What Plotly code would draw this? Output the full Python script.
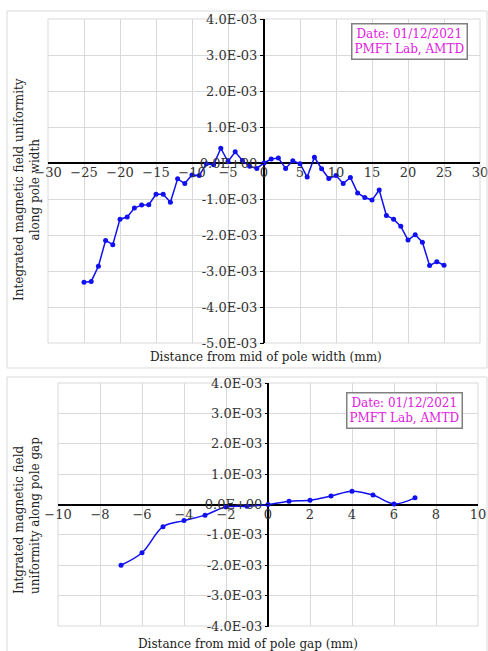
import plotly.graph_objects as go

W, H = 488, 651

# ---- data ----
width_x = list(range(-25, 26))
width_y = [-3.31e-3, -3.29e-3, -2.87e-3, -2.15e-3, -2.27e-3, -1.56e-3, -1.50e-3, -1.25e-3,
           -1.17e-3, -1.16e-3, -0.87e-3, -0.87e-3, -1.09e-3, -0.44e-3, -0.57e-3, -0.33e-3,
           -0.35e-3, -0.02e-3, -0.05e-3, 0.41e-3, 0.04e-3, 0.31e-3, 0.07e-3, -0.09e-3,
           -0.15e-3, 0.0, 0.11e-3, 0.14e-3, -0.15e-3, 0.06e-3, -0.02e-3, -0.39e-3,
           0.16e-3, -0.16e-3, -0.43e-3, -0.35e-3, -0.57e-3, -0.40e-3, -0.83e-3, -0.96e-3,
           -1.03e-3, -0.75e-3, -1.46e-3, -1.56e-3, -1.76e-3, -2.14e-3, -1.99e-3, -2.20e-3,
           -2.85e-3, -2.74e-3, -2.84e-3]

gap_x = list(range(-7, 8))
gap_y = [-2.00e-3, -1.59e-3, -0.73e-3, -0.53e-3, -0.35e-3, -0.08e-3, -0.06e-3, 0.0,
         0.11e-3, 0.14e-3, 0.28e-3, 0.44e-3, 0.31e-3, 0.02e-3, 0.22e-3]

top_xticks = list(range(-30, 31, 5))
top_yticks = [4e-3, 3e-3, 2e-3, 1e-3, 0.0, -1e-3, -2e-3, -3e-3, -4e-3, -5e-3]
top_ylabels = ["4.0E-03", "3.0E-03", "2.0E-03", "1.0E-03", "0.0E+00",
               "-1.0E-03", "-2.0E-03", "-3.0E-03", "-4.0E-03", "-5.0E-03"]
bot_xticks = list(range(-10, 11, 2))
bot_yticks = [4e-3, 3e-3, 2e-3, 1e-3, 0.0, -1e-3, -2e-3, -3e-3, -4e-3]
bot_ylabels = ["4.0E-03", "3.0E-03", "2.0E-03", "1.0E-03", "0.0E+00",
               "-1.0E-03", "-2.0E-03", "-3.0E-03", "-4.0E-03"]

FONT = "DejaVu Serif"
BLUE = "#1010f0"
GRID = "#d9d9d9"
MAG = "#e020e0"

def px(x):
    return x / W

def py(y):
    return 1 - y / H

fig = go.Figure()
fig.add_trace(go.Scatter(x=width_x, y=width_y, mode="lines+markers",
                         line=dict(color=BLUE, width=1.5), marker=dict(size=5, color=BLUE),
                         xaxis="x", yaxis="y", showlegend=False))
fig.add_trace(go.Scatter(x=gap_x, y=gap_y, mode="lines+markers",
                         line=dict(color=BLUE, width=1.5, shape="spline"),
                         marker=dict(size=5, color=BLUE),
                         xaxis="x2", yaxis="y2", showlegend=False))

tickfont = dict(family=FONT, size=13, color="#333333")

common = dict(showgrid=True, gridcolor=GRID, zeroline=True, zerolinecolor="black",
              zerolinewidth=1.5, automargin=False, showline=False,
              ticklabeloverflow="allow", tickfont=tickfont, anchor="free")

fig.update_layout(
    width=W, height=H, margin=dict(l=0, r=0, t=0, b=0, autoexpand=False),
    paper_bgcolor="white", plot_bgcolor="white",
    font=dict(family=FONT, size=12, color="#222222"),
    xaxis=dict(domain=[px(48), px(480)], range=[-30, 30], tickvals=top_xticks,
               position=py(163), ticks="", **common),
    yaxis=dict(domain=[py(343), py(19)], range=[-5e-3, 4e-3], tickvals=top_yticks,
               ticktext=top_ylabels, position=px(264), ticks="outside", ticklen=4,
               tickcolor="black", **common),
    xaxis2=dict(domain=[px(58), px(478)], range=[-10, 10], tickvals=bot_xticks,
                position=py(505), ticks="", **common),
    yaxis2=dict(domain=[py(626), py(383)], range=[-4e-3, 4e-3], tickvals=bot_yticks,
                ticktext=bot_ylabels, position=px(269), ticks="outside", ticklen=4,
                tickcolor="black", **common),
    shapes=[
        dict(type="rect", xref="paper", yref="paper", x0=px(7), x1=px(487),
             y0=py(368), y1=py(11), line=dict(color=GRID, width=1)),
        dict(type="rect", xref="paper", yref="paper", x0=px(7), x1=px(487),
             y0=-0.02, y1=py(377), line=dict(color=GRID, width=1)),
        dict(type="rect", xref="paper", yref="paper", x0=px(48), x1=px(480),
             y0=py(343), y1=py(19), line=dict(color=GRID, width=1), layer="below"),
        dict(type="rect", xref="paper", yref="paper", x0=px(58), x1=px(478),
             y0=py(626), y1=py(383), line=dict(color=GRID, width=1), layer="below"),
    ],
    annotations=[
        dict(xref="paper", yref="paper", x=px(468), y=py(23), xanchor="right", yanchor="top",
             text="Date: 01/12/2021<br>PMFT Lab, AMTD", showarrow=False, align="center",
             font=dict(family=FONT, size=12, color=MAG), bgcolor="white",
             bordercolor="#808080", borderwidth=1.5, borderpad=2),
        dict(xref="paper", yref="paper", x=px(463), y=py(392), xanchor="right", yanchor="top",
             text="Date: 01/12/2021<br>PMFT Lab, AMTD", showarrow=False, align="center",
             font=dict(family=FONT, size=12, color=MAG), bgcolor="white",
             bordercolor="#808080", borderwidth=1.5, borderpad=2),
        dict(xref="paper", yref="paper", x=px(266), y=py(357), xanchor="center", yanchor="middle",
             text="Distance from mid of pole width (mm)", showarrow=False,
             font=dict(family=FONT, size=12, color="#222222")),
        dict(xref="paper", yref="paper", x=px(248), y=py(644), xanchor="center", yanchor="middle",
             text="Distance from mid of pole gap (mm)", showarrow=False,
             font=dict(family=FONT, size=12, color="#222222")),
        dict(xref="paper", yref="paper", x=px(27), y=py(190), xanchor="center", yanchor="middle",
             text="Integrated magnetic field uniformity<br>along pole width", showarrow=False,
             textangle=-90, font=dict(family=FONT, size=12, color="#222222")),
        dict(xref="paper", yref="paper", x=px(27), y=py(516), xanchor="center", yanchor="middle",
             text="Intgrated magnetic field<br>uniformity along pole gap", showarrow=False,
             textangle=-90, align="left", font=dict(family=FONT, size=12, color="#222222")),
    ],
)

fig.write_html("out.html", config={"displayModeBar": False},
               post_script="document.body.style.margin='0';document.body.style.overflow='hidden';")
